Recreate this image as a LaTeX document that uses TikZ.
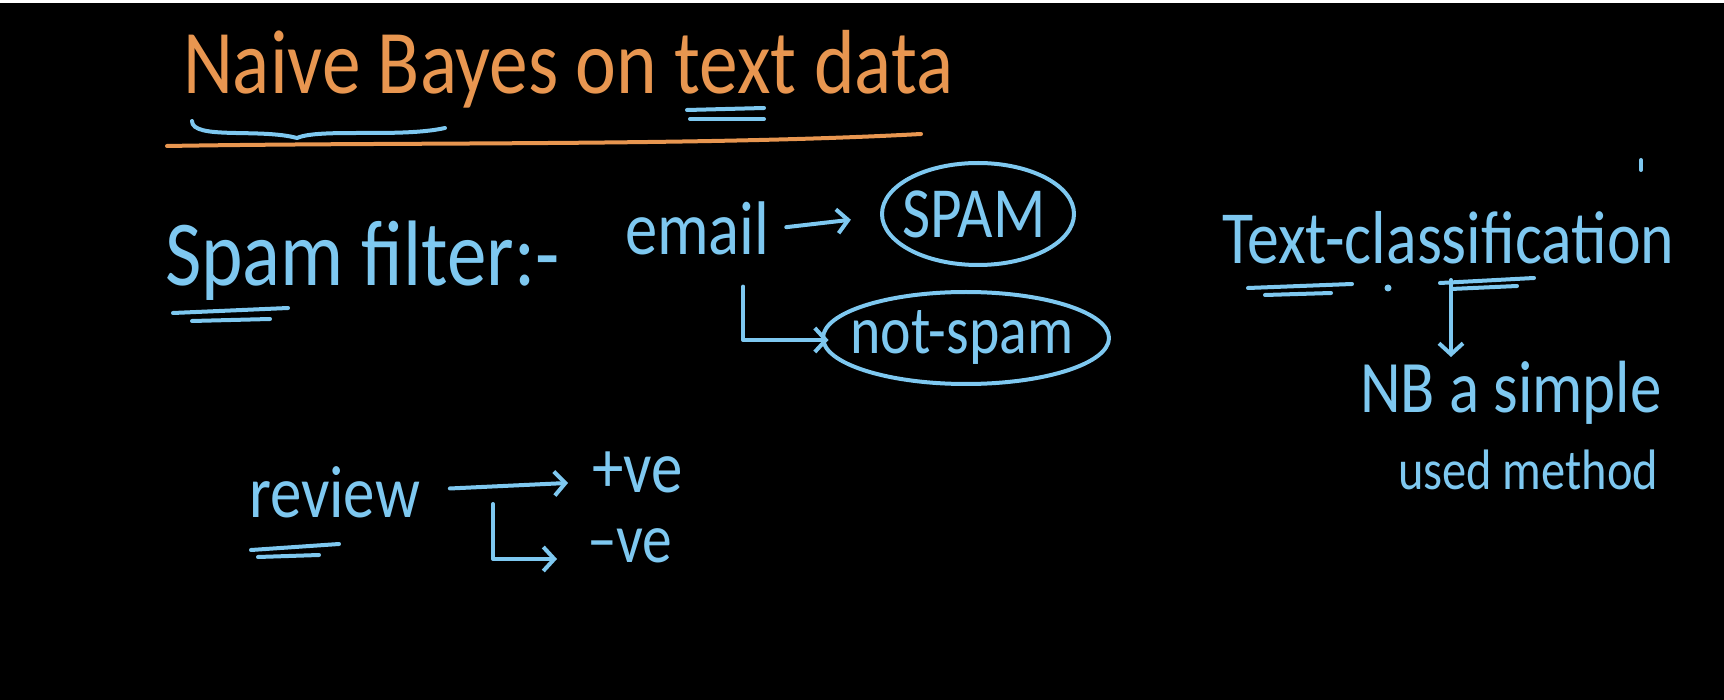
\documentclass[tikz,border=0pt]{standalone}
\usepackage{fontspec}
\setmainfont[FakeStretch=0.85]{Carlito}
\usetikzlibrary{arrows.meta}
\definecolor{chalkblue}{RGB}{126,200,240}
\definecolor{chalkorange}{RGB}{232,150,80}

\begin{document}
\begin{tikzpicture}[x=1pt, y=-1pt, line width=4.0pt, line cap=round, line join=round,
  chalk/.style={chalkblue, line width=4.0pt},
  handtip/.style={-{Straight Barb[length=11pt,width=24pt,line width=4pt]}},
  txt/.style={anchor=base west, inner sep=0pt, chalkblue, font=\fontsize{74}{84}\selectfont},
  bubbletxt/.style={anchor=center, inner sep=0pt, chalkblue}]

  %% ════ 背景 ════
  \fill[black] (0,0) rectangle (1724,700);
  \fill[white] (0,0) rectangle (1724,3);

  %% ════ 标题 ════
  \node[txt, chalkorange, font=\fontsize{91}{101}\selectfont] (title) at (181,94) {Naive Bayes on text data};
  \draw[chalkorange] (167,146) .. controls (400,142) and (700,146) .. (921,134);
  \draw[chalk] (192,121) .. controls (192,140) and (260,128) .. (297,138)
               .. controls (320,128) and (400,138) .. (445,128);
  \draw[chalk] (687,110) -- (764,108);
  \draw[chalk] (690,119) -- (764,119);

  %% ════ Spam filter ════
  \node[txt, font=\fontsize{93}{103}\selectfont] (spamfilter) at (163,286) {Spam filter:-};
  \draw[chalk] (173,313) -- (288,308);
  \draw[chalk] (192,321) -- (270,319);
  \node[txt, font=\fontsize{76}{86}\selectfont] (email) at (623,255) {email};
  \node[bubbletxt, font=\fontsize{72}{82}\selectfont] (spam) at (974,214) {SPAM};
  \node[bubbletxt, font=\fontsize{68}{78}\selectfont] (notspam) at (962,337) {not-spam};
  \draw[chalk] (978,214) ellipse [x radius=96, y radius=51];
  \draw[chalk] (966,338) ellipse [x radius=143, y radius=46];
  \draw[chalk, handtip, shorten <=15pt, shorten >=50pt] (email.east) -- (spam.west);
  \draw[chalk, handtip, shorten <=29pt, shorten >=20pt] ([xshift=46pt]email.south) |- ([yshift=-3pt]notspam.west);

  %% ════ Text-classification ════
  \node[txt, font=\fontsize{75}{85}\selectfont] (textcls) at (1220,264) {Text-classification};
  \draw[chalk] (1641,160) -- (1641,170);
  \draw[chalk] (1248,288) -- (1352,284);
  \draw[chalk] (1265,295) -- (1331,293);
  \fill[chalkblue] (1388,288) circle (3.5);
  \draw[chalk] (1440,283) -- (1534,278);
  \draw[chalk] (1451,289) -- (1517,286);
  \coordinate (tcdown) at (1451,280);
  \coordinate (nbtop) at (1451,357);
  \node[txt, font=\fontsize{74}{84}\selectfont] (nbline) at (1358,412) {NB a simple};
  \node[txt, font=\fontsize{57}{67}\selectfont] (usedline) at (1396,489) {used method};
  \draw[chalk, handtip] (tcdown) -- (nbtop);

  %% ════ review ════
  \node[txt] (review) at (247,517) {review};
  \draw[chalk] (251,550) -- (339,544);
  \draw[chalk] (258,557) -- (319,555);
  \node[txt, font=\fontsize{74}{84}\selectfont] (pos) at (590,492) {+ve};
  \node[txt, font=\fontsize{70}{80}\selectfont] (neg) at (585,562) {–ve};
  \draw[chalk, handtip, shorten <=28pt, shorten >=22pt] ([yshift=2pt]review.east) -- ([yshift=-10pt]pos.west);
  \coordinate (fork) at (493,504);
  \draw[chalk, handtip, shorten >=28pt] (fork) |- ([yshift=3pt]neg.base west);

  %% 钉死画布
  \pgfresetboundingbox
  \path[use as bounding box] (0,0) rectangle (1724,700);
\end{tikzpicture}
\end{document}
